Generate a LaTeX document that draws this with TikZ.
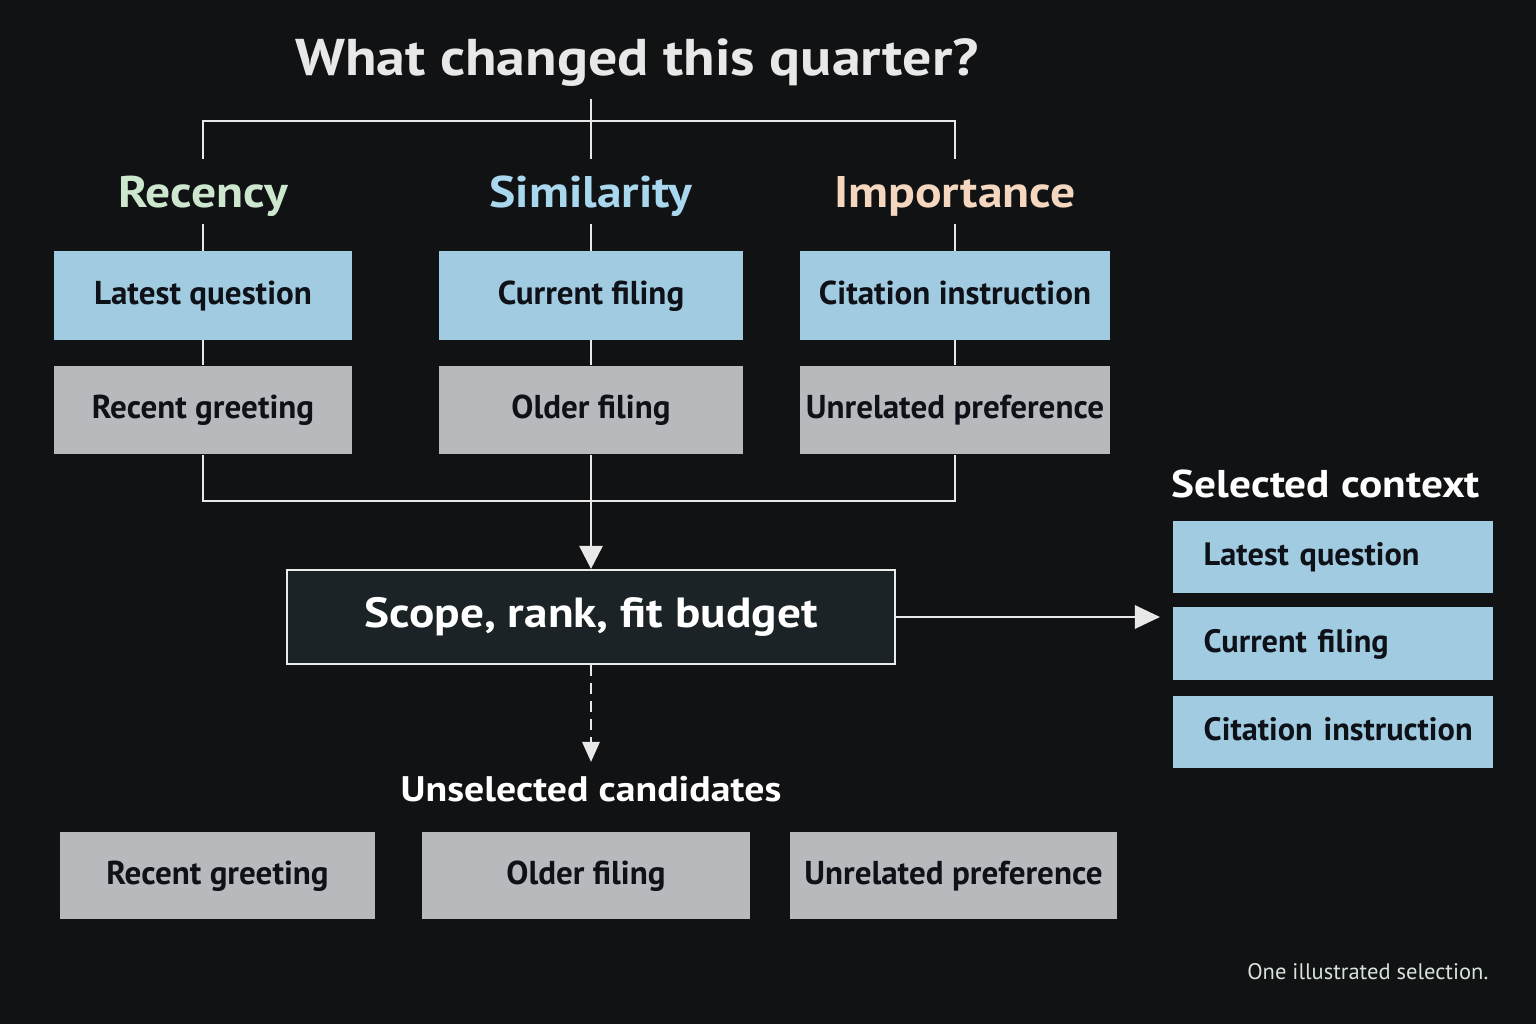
\documentclass[tikz,border=0pt]{standalone}
\usepackage{fontspec}
\setmainfont{PT Sans}
\newfontfamily\widesans{PT Sans}[FakeStretch=1.12]
\usetikzlibrary{arrows.meta,positioning}

\definecolor{bgdark}{HTML}{111214}
\definecolor{boxblue}{HTML}{A0CBE0}
\definecolor{boxgrey}{HTML}{B8B9BD}
\definecolor{inkdark}{HTML}{0E1117}
\definecolor{wirewhite}{HTML}{E8E8E8}
\definecolor{recgreen}{HTML}{CDE6CE}
\definecolor{simblue}{HTML}{A9D7EE}
\definecolor{impbeige}{HTML}{F5D7C0}
\definecolor{scopefill}{HTML}{1B2327}
\definecolor{notegrey}{HTML}{D6E2DA}

\begin{document}
\begin{tikzpicture}[x=0.01cm, y=-0.01cm,
    wire/.style={draw=wirewhite, line width=0.8pt},
    head/.style={font=\widesans\bfseries\fontsize{12.6}{14}\selectfont, inner sep=0, text height=0.47cm, text depth=0.16cm, anchor=base},
    card/.style={font=\bfseries\fontsize{9.4}{11}\selectfont, text=inkdark, minimum height=0.88cm, inner sep=0, text height=0.75em, text depth=0.25em},
    kept/.style={card, fill=boxblue},
    dropped/.style={card, fill=boxgrey},
    pick/.style={font=\bfseries\fontsize{9.2}{11}\selectfont, text=inkdark, fill=boxblue, anchor=west, text width=2.58cm, align=left, inner xsep=0.31cm, inner ysep=0, minimum height=0.72cm, text height=0.75em, text depth=0.25em},
    label/.style={font=\widesans\bfseries\fontsize{10.1}{12}\selectfont, text=white, inner sep=0},
    tip/.style={-{Triangle[length=0.23cm,width=0.23cm]}},
  ]
    % Background
    \fill[bgdark] (0,0) rectangle (1536,1024);

    % Question and the three signals
    \node[font=\widesans\bfseries\fontsize{14.7}{18}\selectfont, text=wirewhite, inner sep=0, text depth=0.23cm, anchor=base] (title) at (637,75) {What changed this quarter?};
    \node[head, text=recgreen] (rec) at (203,207) {Recency};
    \node[head, text=simblue] (sim) at (591,207) {Similarity};
    \node[head, text=impbeige] (imp) at (955,207) {Importance};

    % Candidate boxes
    \node[kept, minimum width=2.97cm] (latest) at (203,295.5) {Latest question};
    \node[kept, minimum width=3.03cm] (current) at (591,295.5) {Current filing};
    \node[kept, minimum width=3.10cm] (citation) at (955,295.5) {Citation instruction};
    \node[dropped, minimum width=2.97cm] (greeting) at (203,410) {Recent greeting};
    \node[dropped, minimum width=3.03cm] (older) at (591,410) {Older filing};
    \node[dropped, minimum width=3.10cm] (unrelated) at (955,410) {Unrelated preference};

    % Fork from the question
    \coordinate (fork) at (591,121);
    \draw[wire] (title.south -| fork) -- (sim.north);
    \draw[wire] (rec.north) -- (rec.north |- fork) -- (imp.north |- fork) -- (imp.north);
    \foreach \h/\a/\b in {rec/latest/greeting, sim/current/older, imp/citation/unrelated} {
      \draw[wire] (\h.south) -- (\a.north);
      \draw[wire] (\a.south) -- (\b.north);
    }

    % Ranking step
    \node[draw=wirewhite!85, line width=0.6pt, fill=scopefill, minimum width=6.08cm, minimum height=0.94cm, text=white, font=\widesans\bfseries\fontsize{12}{14}\selectfont] (scope) at (591,617) {Scope, rank, fit budget};
    \coordinate (join) at (591,501);
    \draw[wire] (greeting.south) -- (greeting.south |- join) -- (unrelated.south |- join) -- (unrelated.south);
    \draw[wire, tip] (older.south) -- (scope.north);

    % Selected context
    \node[label, font=\widesans\bfseries\fontsize{11}{13}\selectfont, anchor=base west] (selhead) at (1171,497) {Selected context};
    \node[pick] (sel1) at (1172,557) {Latest question};
    \node[pick] (sel2) at (1172,643.5) {Current filing};
    \node[pick] (sel3) at (1172,732) {\mbox{Citation instruction}};
    \coordinate (selin) at (1160,617);
    \draw[wire, -{Triangle[length=0.25cm,width=0.23cm]}] (scope.east) -- (selin);

    % Unselected candidates
    \coordinate (dropin) at (591,762);
    \draw[wire, dash pattern=on 0.11cm off 0.07cm, -{Triangle[length=0.2cm,width=0.17cm]}] (scope.south) -- (dropin);
    \node[label, anchor=base] (unsel) at (591,801) {Unselected candidates};
    \node[dropped, minimum width=3.15cm, minimum height=0.87cm] (drop1) at (217.5,875.5) {Recent greeting};
    \node[dropped, minimum width=3.28cm, minimum height=0.87cm] (drop2) at (586,875.5) {Older filing};
    \node[dropped, minimum width=3.27cm, minimum height=0.87cm] (drop3) at (953.5,875.5) {Unrelated preference};

    \node[anchor=base east, inner sep=0, text=notegrey, font=\fontsize{6.4}{8}\selectfont] (note) at (1489,979) {One illustrated selection.};
\end{tikzpicture}
\end{document}
